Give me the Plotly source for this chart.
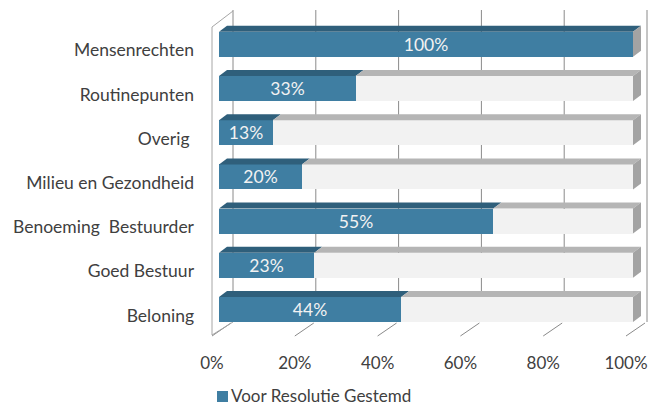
import plotly.graph_objects as go

# ---------------- data ----------------
categories = ["Mensenrechten", "Routinepunten", "Overig\u00a0", "Milieu en Gezondheid",
              "Benoeming\u00a0 Bestuurder", "Goed Bestuur", "Beloning"]
voor = [100, 33, 13, 20, 55, 23, 44]      # shown labels (votes for)
tegen = [0, 67, 87, 80, 28, 77, 56]       # remainder of the 100% stacked bar
x_ticks = [0, 20, 40, 60, 80, 100]
x_ticklabels = ["0%", "20%", "40%", "60%", "80%", "100%"]
series_name = "Voor Resolutie Gestemd"

# ---------------- style ----------------
FONT = "Lato"
TXT = "#404040"
BLUE = "#3f7ea2"
BLUE_TOP = "#2f5f7b"
GRAY = "#f2f2f2"
GRAY_TOP = "#b5b5b5"
END = "#a3a3a3"
GRID = "#8a8a8a"
WALL = "#a6a6a6"

W, H = 649, 405
ML, MR, MT, MB = 205, 0, 0, 55
# pixel geometry of the bar front plane
X0PX, SX = 219.0, 4.14        # value 0 -> pixel, px per percent
Y0PX, SY = 309.5, 44.2        # row 0 centre pixel, px per row
BW = 25.0 / SY                # bar thickness in row units
DX, DY = 8.0 / SX, 6.0 / SY   # bar depth offset
BACK = 14.0 / SX              # back wall offset
FRONT = -7.0 / SX             # floor front edge offset


def px2x(p):
    return (p - X0PX) / SX


def px2y(p):
    return (Y0PX - p) / SY


def ppx(p):
    return (p - ML) / (W - ML - MR)


def ppy(p):
    return (H - MB - p) / (H - MB - MT)


n = len(categories)
rows = [n - 1 - i for i in range(n)]
share = [v / (v + t) * 100 for v, t in zip(voor, tegen)]
rest = [100 - s for s in share]

fig = go.Figure()

# front faces
fig.add_bar(y=rows, x=share, orientation="h", width=BW, marker_color=BLUE,
            marker_line_width=0, name=series_name,
            text=[f"{v}%" for v in voor], textposition="inside",
            insidetextanchor="middle", textangle=0, constraintext="none",
            textfont=dict(family=FONT, size=17.5, color="#f2f2f2"),
            hoverinfo="skip")
fig.add_bar(y=rows, x=rest, orientation="h", width=BW, marker_color=GRAY,
            marker_line_width=0, name="rest", hoverinfo="skip")

# top & end faces
bx, by, gx, gy, ex, ey = [], [], [], [], [], []
for k, s in zip(rows, share):
    yt = k + BW / 2
    yb = k - BW / 2
    bx += [0, s, s + DX, DX, 0, None]
    by += [yt, yt, yt + DY, yt + DY, yt, None]
    if s < 100:
        gx += [s, 100, 100 + DX, s + DX, s, None]
        gy += [yt, yt, yt + DY, yt + DY, yt, None]
    ex += [100, 100 + DX, 100 + DX, 100, 100, None]
    ey += [yt, yt + DY, yb + DY, yb, yt, None]

for xs, ys, c in [(bx, by, BLUE_TOP), (gx, gy, GRAY_TOP), (ex, ey, END)]:
    fig.add_scatter(x=xs, y=ys, mode="lines", fill="toself", fillcolor=c,
                    line=dict(width=0, color=c), hoverinfo="skip", showlegend=False)

shapes = []
# back wall gridlines
for v in x_ticks:
    shapes.append(dict(type="line", xref="x", yref="y", layer="below",
                       x0=v + BACK, x1=v + BACK, y0=px2y(10), y1=px2y(322),
                       line=dict(color=GRID, width=1)))
# floor ticks
for v in x_ticks:
    shapes.append(dict(type="line", xref="x", yref="y", layer="below",
                       x0=v + FRONT, y0=px2y(336), x1=v + FRONT + 19.0 / SX, y1=px2y(323),
                       line=dict(color=GRID, width=1)))
# left side wall
for (xa, ya, xb, yb_) in [(FRONT, px2y(27), BACK, px2y(11)),
                          (FRONT, px2y(27), FRONT, px2y(335)),
                          (FRONT, px2y(335), BACK, px2y(322))]:
    shapes.append(dict(type="line", xref="x", yref="y", layer="below",
                       x0=xa, y0=ya, x1=xb, y1=yb_, line=dict(color=WALL, width=1)))

# legend swatch
shapes.append(dict(type="rect", xref="paper", yref="paper",
                   x0=ppx(217), x1=ppx(228), y0=ppy(402), y1=ppy(391),
                   fillcolor=BLUE, line=dict(width=0)))

fig.update_layout(
    width=W, height=H,
    margin=dict(l=ML, r=MR, t=MT, b=MB, autoexpand=False),
    paper_bgcolor="white", plot_bgcolor="white",
    barmode="stack", bargap=0, showlegend=False,
    shapes=shapes,
    annotations=[dict(xref="paper", yref="paper", x=ppx(229), y=ppy(395),
                      xanchor="left", yanchor="middle", showarrow=False,
                      text=series_name, font=dict(family=FONT, size=17, color=TXT))],
    xaxis=dict(range=[px2x(ML), px2x(W - MR)], showgrid=False, zeroline=False,
               showline=False, tickvals=[v + FRONT for v in x_ticks], ticktext=x_ticklabels,
               tickfont=dict(family=FONT, size=17, color=TXT), ticks="",
               ticklabelstandoff=1, fixedrange=True),
    yaxis=dict(range=[px2y(H - MB), px2y(MT)], showgrid=False, zeroline=False,
               showline=False, tickvals=[k - 6.0 / SY for k in rows], ticktext=categories,
               tickfont=dict(family=FONT, size=17.5, color=TXT), ticks="",
               ticklabelstandoff=10, fixedrange=True),
)

fig.write_html("out.html", config={"displayModeBar": False},
               post_script="document.body.style.margin='0';document.body.style.overflow='hidden';")
